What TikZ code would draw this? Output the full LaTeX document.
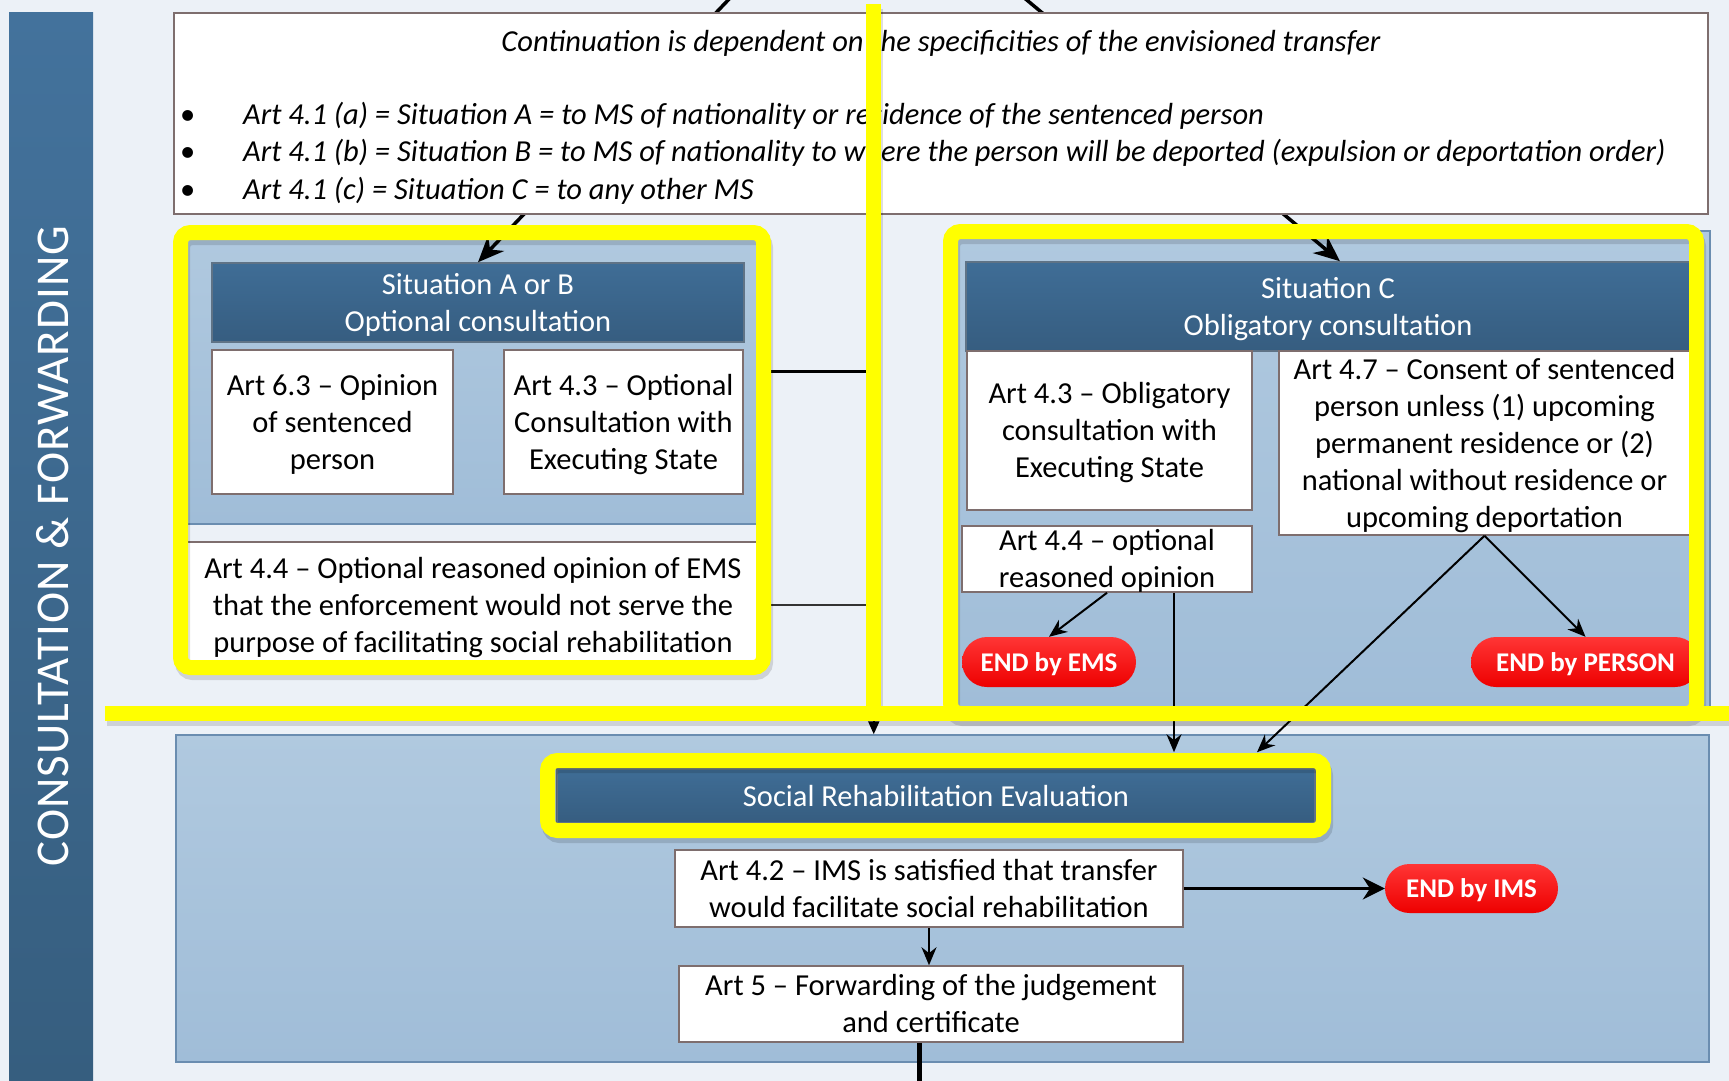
\documentclass[tikz,border=0pt]{standalone}
\usepackage{fontspec}
\setmainfont{Carlito}
\usetikzlibrary{arrows.meta,calc,shapes.misc}

\definecolor{bg}{HTML}{ECF1F7}
\definecolor{sideTop}{HTML}{43729C}
\definecolor{sideBot}{HTML}{365E7F}
\definecolor{hdrTop}{HTML}{3F6D96}
\definecolor{hdrBot}{HTML}{365D80}
\definecolor{hdrLine}{HTML}{5F7386}
\definecolor{panTop}{HTML}{B0C9DF}
\definecolor{panBot}{HTML}{A0BDD8}
\definecolor{panLine}{HTML}{6A8DB0}
\definecolor{boxLine}{HTML}{7E6E6E}
\definecolor{pillTop}{HTML}{FF3535}
\definecolor{pillBot}{HTML}{EE0000}
\definecolor{marker}{HTML}{FFFF00}

\newcommand{\bodyfont}{\fontsize{30.5}{37}\selectfont}
% fixed line extents so every label sits on the same optical centre
\newcommand{\firststrut}{\rule{0pt}{0.9em}}
\newcommand{\laststrut}{\rule[-0.213em]{0pt}{0.213em}}

\begin{document}
\begin{tikzpicture}[x=1pt,y=-1pt,
  txt/.style={execute at begin node=\firststrut, execute at end node=\laststrut},
  panel/.style={draw=panLine, line width=1.5pt, top color=panTop, bottom color=panBot, inner sep=0pt},
  header/.style={txt, draw=hdrLine, line width=1.5pt, top color=hdrTop, bottom color=hdrBot,
                 text=white, align=center, inner sep=0pt, font=\bodyfont},
  wbox/.style={txt, draw=boxLine, line width=1.5pt, fill=white, align=center, inner sep=0pt, font=\bodyfont},
  pill/.style={txt, rounded rectangle, top color=pillTop, bottom color=pillBot, text=white,
               inner sep=0pt, font=\fontsize{27}{32}\selectfont\bfseries},
  bullet line/.style={txt, anchor=west, inner sep=0pt, font=\bodyfont\itshape},
  bigarr/.style={line width=3.5pt, -{Stealth[length=26pt,width=22pt]}},
  arr/.style={line width=2pt, -{Stealth[length=18pt,width=15pt]}},
  hlmark/.style={draw=marker, line width=15pt},
  hlshadow/.style={draw=black, line width=15pt, opacity=0.13, shift={(2pt,-5pt)}},
]
\useasboundingbox (0,0) rectangle (1729,1081);
\fill[bg] (0,0) rectangle (1729,1081);

% side banner
\node[minimum width=84pt, minimum height=1068pt, top color=sideTop, bottom color=sideBot, inner sep=0pt]
  (side) at (51,547) {};
\node[rotate=90, text=white, inner sep=0pt, font=\fontsize{47}{56}\selectfont\addfontfeatures{LetterSpace=2.3}]
  (sidelabel) at (53,546) {CONSULTATION \& FORWARDING};

% group panels
\node[panel, minimum width=585pt, minimum height=292pt] (pA) at (470.5,378) {};
\node[panel, minimum width=760pt, minimum height=481pt] (pC) at (1330,471.5) {};
\node[panel, minimum width=1533pt, minimum height=327pt] (pB) at (942.5,898.5) {};

% situation A or B
\node[header, minimum width=532pt, minimum height=79pt] (hdrA) at (478,302.5)
  {\firststrut Situation A or B\\Optional consultation};
\node[wbox, minimum width=241pt, minimum height=144pt] (a63) at (332.5,422)
  {\firststrut Art 6.3 -- Opinion\\of sentenced\\person};
\node[wbox, minimum width=239pt, minimum height=144pt] (a43opt) at (623.5,422)
  {\firststrut Art 4.3 -- Optional\\Consultation with\\Executing State};
\node[wbox, minimum width=583pt, minimum height=126pt] (a44A) at (473,605)
  {\firststrut Art 4.4 -- Optional reasoned opinion of EMS\\that the enforcement would not serve the\\purpose of facilitating social rehabilitation};

% situation C
\node[header, minimum width=724pt, minimum height=89pt] (hdrC) at (1328,306.5)
  {\firststrut Situation C\\Obligatory consultation};
\node[wbox, minimum width=285pt, minimum height=159pt] (a43obl) at (1109.5,430.5)
  {\firststrut Art 4.3 -- Obligatory\\consultation with\\Executing State};
\node[wbox, minimum width=411pt, minimum height=184pt] (a47) at (1484.5,443)
  {\firststrut Art 4.7 -- Consent of sentenced\\person unless (1) upcoming\\permanent residence or (2)\\national without residence or\\upcoming deportation};
\node[wbox, minimum width=290pt, minimum height=66pt, inner ysep=-2.5pt] (a44C) at (1107,559)
  {\firststrut Art 4.4 -- optional\\reasoned opinion};
\node[pill, minimum width=174pt, minimum height=50pt] (endEMS) at (1049,662) {END by EMS};
\node[pill, minimum width=229pt, minimum height=50pt] (endPER) at (1585.5,662) {END by PERSON};

% social rehabilitation
\node[header, minimum width=758pt, minimum height=54pt] (hdrS) at (936,796)
  {Social Rehabilitation Evaluation};
\node[wbox, minimum width=508pt, minimum height=77pt] (a42) at (929,888.5)
  {\firststrut Art 4.2 -- IMS is satisfied that transfer\\would facilitate social rehabilitation};
\node[wbox, minimum width=504pt, minimum height=76pt] (a5) at (931,1004)
  {\firststrut Art 5 -- Forwarding of the judgement\\and certificate};
\node[pill, minimum width=173pt, minimum height=49pt] (endIMS) at (1471.5,888.5) {END by IMS};

% incoming flows from above
\coordinate (srcL) at (732,-4);
\coordinate (srcR) at (1022,-4);
\draw[bigarr] (srcL) -- (hdrA.north);
\draw[bigarr] (srcR) -- ($(hdrC.north)+(12,0)$);

% transfer situation box
\node[draw=boxLine, line width=2pt, fill=white, minimum width=1534pt, minimum height=201pt, inner sep=0pt]
  (topbox) at (941,113.5) {};
\node[txt, inner sep=0pt, font=\bodyfont\itshape] (title) at (941,41)
  {Continuation is dependent on the specificities of the envisioned transfer};
\node[bullet line] (sitA) at (243,114)
  {\llap{\upshape\textbullet\hspace{48pt}}Art 4.1 (a) = Situation A = to MS of nationality or residence of the sentenced person};
\node[bullet line] (sitB) at (243,151)
  {\llap{\upshape\textbullet\hspace{48pt}}Art 4.1 (b) = Situation B = to MS of nationality to where the person will be deported (expulsion or deportation order)};
\node[bullet line] (sitC) at (243,189)
  {\llap{\upshape\textbullet\hspace{48pt}}Art 4.1 (c) = Situation C = to any other MS};

% optional branch joins the evaluation
\draw[line width=3pt] ($(pA.east)+(0,-7)$) -- ++(110,0) coordinate (vcTop);
\draw[line width=2pt, black!80] (a44A.east) -- (a44A.east -| vcTop);
\draw[line width=2pt, -{Triangle[length=13pt,width=11pt]}] (vcTop) -- (vcTop |- pB.north);

% situation C flows
\coordinate (sreTop) at ($(hdrS.north)+(0,-16)$);
\draw[arr] (a44C.south) -- (endEMS.north);
\draw[arr] ($(a44C.south)+(67,0)$) coordinate (v1) -- (v1 |- sreTop);
\draw[arr] (a47.south) -- (endPER.north);
\draw[arr] (a47.south) -- ($(sreTop)+(321,0)$);

% evaluation flows
\draw[arr] (a42.south) -- (a42.south |- a5.north);
\draw[line width=3pt, -{Stealth[length=22pt,width=22pt]}] (a42.east) -- (endIMS.west);
\draw[line width=5pt] ($(a5.south)+(-12,0)$) -- ++(0,45);

% highlighter marks
\foreach \sty in {hlshadow, hlmark} {
  \draw[\sty, rounded corners=10pt] (180.5,232.5) rectangle (763.5,667.5);
  \draw[\sty, rounded corners=10pt] (950.5,231.5) rectangle (1696.5,713.5);
  \draw[\sty, rounded corners=10pt] (547.5,760.5) rectangle (1323.5,830.5);
  \draw[\sty] (105,713.5) -- (1735,713.5);
  \draw[\sty] (873.5,4) -- (873.5,713.5);
}
\end{tikzpicture}
\end{document}
